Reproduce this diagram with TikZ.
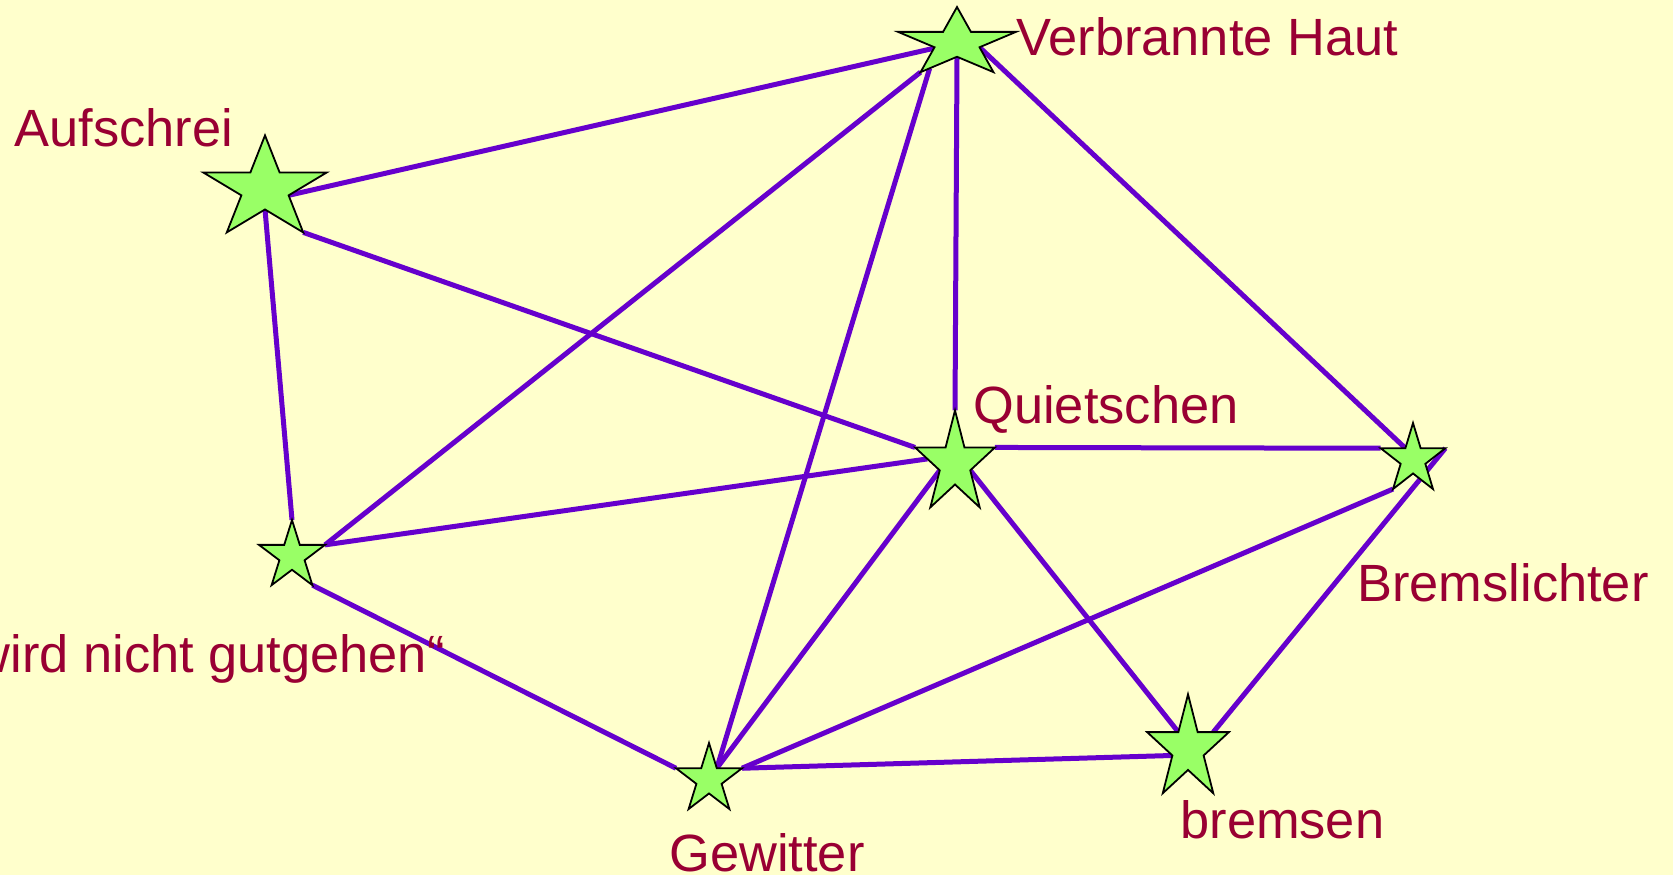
\documentclass[tikz,border=0pt]{standalone}
\usepackage{fontspec}
\setmainfont{Liberation Sans}
\usetikzlibrary{shapes.geometric, calc}
\definecolor{bgyellow}{HTML}{FFFFCC}
\definecolor{stargreen}{HTML}{99FF66}
\definecolor{linkpurple}{HTML}{6600CC}
\definecolor{wordred}{HTML}{990033}
\pgfdeclarelayer{paper}
\pgfdeclarelayer{links}
\pgfsetlayers{paper,links,main}

\begin{document}
\begin{tikzpicture}[x=0.5pt, y=-0.5pt,
    spark/.style={star, star points=5, star point ratio=2.618, draw=black, line width=0.9pt,
      fill=stargreen, inner sep=0pt, outer sep=0pt, minimum size=1pt, transform shape},
    word/.style={text=wordred, inner sep=0pt, font=\fontsize{26.2}{30}\selectfont},
    link/.style={draw=linkpurple, line width=2.5pt}]

    \begin{pgfonlayer}{paper}
        \fill [bgyellow] (0, 0) rectangle (1673, 875);
    \end{pgfonlayer}
    \useasboundingbox (0, 0) rectangle (1673, 875);

    % Stars
    \node [spark, xscale = 65, yscale = 53.6] (aufschrei) at (265, 189) {};
    \node [spark, xscale = 62, yscale = 36] (haut) at (957, 43) {};
    \node [spark, xscale = 42, yscale = 53.6] (quietschen) at (955, 464) {};
    \node [spark, xscale = 34, yscale = 36.5] (lichter) at (1413, 459.5) {};
    \node [spark, xscale = 34.7, yscale = 36] (gutgehen) at (292, 556) {};
    \node [spark, xscale = 34.7, yscale = 36.5] (gewitter) at (709, 779.5) {};
    \node [spark, xscale = 43, yscale = 54.7] (bremsen) at (1188, 749) {};

    % Labels
    \node [word, anchor = base west] (l-aufschrei) at (14, 146) {Aufschrei};
    \node [word, anchor = base west] (l-haut) at (1016, 55) {Verbrannte Haut};
    \node [word, anchor = base west] (l-quietschen) at (973, 423) {Quietschen};
    \node [word, anchor = base west] (l-lichter) at (1357, 601) {Bremslichter};
    \node [word, anchor = base east] (l-gutgehen) at (445, 672) {wird nicht gutgehen“};
    \node [word, anchor = base west] (l-gewitter) at (669, 871) {Gewitter};
    \node [word, anchor = base west] (l-bremsen) at (1180, 838) {bremsen};

    % Links (under the stars)
    \begin{pgfonlayer}{links}
        \draw [link] (aufschrei.inner point 4) -- (haut.center);
        \draw [link] (aufschrei.outer point 4) -- (quietschen.outer point 2);
        \draw [link] (aufschrei.inner point 3) -- (gutgehen.outer point 1);
        \draw [link] (haut.outer point 3) -- (gutgehen.outer point 5);
        \draw [link] ($(haut.outer point 3)!0.25!(haut.inner point 3)$) -- (gewitter.inner point 5);
        \draw [link] (haut.inner point 3) -- (quietschen.outer point 1);
        \draw [link] (haut.inner point 4) -- (lichter.inner point 1);
        \draw [link] (quietschen.outer point 5) -- (lichter.outer point 2);
        \draw [link] ($(quietschen.outer point 2)!0.5!(quietschen.inner point 2)$) -- (gutgehen.outer point 5);
        \draw [link] (quietschen.inner point 2) -- (gewitter.inner point 5);
        \draw [link] (quietschen.inner point 4) -- (bremsen.inner point 1);
        \draw [link] (lichter.outer point 3) -- (gewitter.outer point 5);
        \draw [link] (lichter.outer point 5) -- ($(bremsen.inner point 5)!0.5!(bremsen.outer point 5)$);
        \draw [link] (gutgehen.outer point 4) -- (gewitter.outer point 2);
        \draw [link] (gewitter.outer point 5) -- (bremsen.inner point 2);
    \end{pgfonlayer}

\end{tikzpicture}
\end{document}
